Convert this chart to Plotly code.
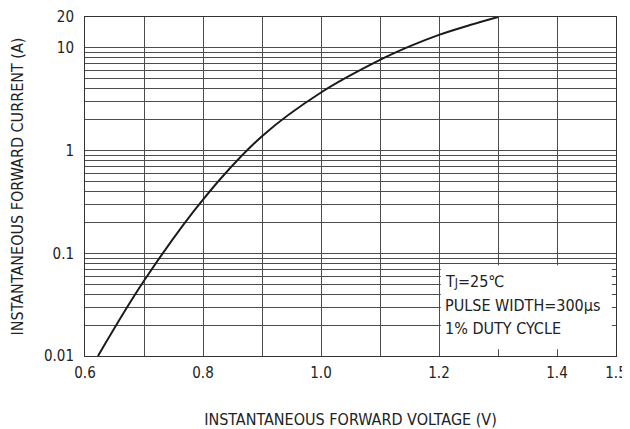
import plotly.graph_objects as go

# Forward characteristic
voltage = [0.622, 0.70, 0.80, 0.90, 1.00, 1.10, 1.151, 1.20, 1.2525, 1.30]
current = [0.01, 0.054, 0.334, 1.38, 3.68, 7.64, 10.4, 13.4, 16.7, 20.0]

x_tick_vals = [0.6, 0.8, 1.0, 1.2, 1.4, 1.5]
x_tick_text = ["0.6", "0.8", "1.0", "1.2", "1.4", "1.5"]
x_minor_vals = [0.7, 0.9, 1.1, 1.3]
y_tick_vals = [0.01, 0.1, 1, 10, 20]
y_tick_text = ["0.01", "0.1", "1", "10", "20"]
decades = [0.01, 0.1, 1]
y_minor_vals = [d * m for d in decades for m in range(2, 10)] + [10]

FONT = "DejaVu Sans Condensed"
GRID = "#4d4d4d"
TXT = "#222222"

fig = go.Figure()
fig.add_trace(go.Scatter(
    x=voltage, y=current, mode="lines",
    line=dict(color="#1a1a1a", width=2, shape="spline", smoothing=1.0),
    hoverinfo="skip", showlegend=False,
))

fig.update_xaxes(
    range=[0.6, 1.5], tickvals=x_tick_vals, ticktext=x_tick_text,
    showgrid=True, gridcolor=GRID, gridwidth=1,
    showline=True, linecolor="#333333", linewidth=1, mirror=True,
    ticks="", zeroline=False, automargin=False, ticklabelstandoff=3,
    ticklabeloverflow="allow",
    minor=dict(tickvals=x_minor_vals, showgrid=True, gridcolor=GRID, gridwidth=1, ticks=""),
    tickfont=dict(family=FONT, size=15, color=TXT),
    title=dict(text="INSTANTANEOUS FORWARD VOLTAGE (V)", standoff=33,
               font=dict(family=FONT, size=16, color=TXT)),
)
fig.update_yaxes(
    type="log", range=[-2, 1.30103], tickvals=y_tick_vals, ticktext=y_tick_text,
    showgrid=True, gridcolor=GRID, gridwidth=1,
    showline=True, linecolor="#333333", linewidth=1, mirror=True,
    ticks="", zeroline=False, automargin=False, ticklabelstandoff=7,
    minor=dict(tickvals=y_minor_vals, showgrid=True, gridcolor=GRID, gridwidth=1, ticks=""),
    tickfont=dict(family=FONT, size=15, color=TXT),
    title=dict(text="INSTANTANEOUS FORWARD CURRENT (A)", standoff=22,
               font=dict(family=FONT, size=16, color=TXT)),
)

# white label box
fig.add_shape(type="rect", xref="x", yref="paper", x0=1.203, x1=1.493, y0=0.02, y1=0.268,
              fillcolor="white", line=dict(width=0), layer="above")

labels = ["T<span style='font-size:12px'>J</span>=25℃", "PULSE WIDTH=300μs", "1% DUTY CYCLE"]
label_y = [0.219, 0.148, 0.08]
for txt, yy in zip(labels, label_y):
    fig.add_annotation(x=1.207, y=yy, xref="x", yref="paper", text=txt, showarrow=False,
                       xanchor="left", yanchor="middle",
                       font=dict(family=FONT, size=16, color=TXT))

# page body adds an 8px offset; figure sized to fill the 630x429 window
fig.update_layout(
    width=622, height=421,
    margin=dict(l=77, r=14, t=9, b=73),
    paper_bgcolor="white", plot_bgcolor="white",
)

fig.write_html("out.html")
